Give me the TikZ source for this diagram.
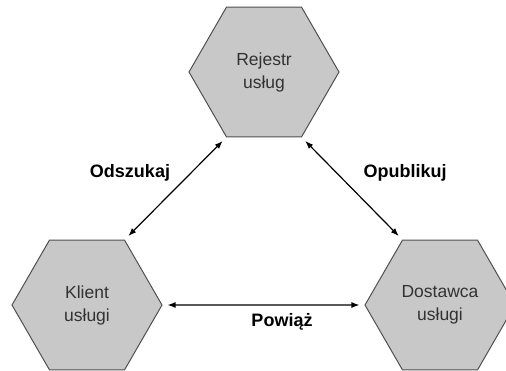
\documentclass[tikz,border=0pt]{standalone}
\usepackage{fontspec}
\setmainfont{Liberation Sans}
\usetikzlibrary{shapes.geometric,arrows.meta}
\definecolor{hexfill}{RGB}{200,200,200}
\definecolor{hexline}{RGB}{80,80,80}
\definecolor{hextext}{RGB}{50,50,50}
\tikzset{
  hexnode/.style={regular polygon, regular polygon sides=6, minimum size=150pt,
    inner sep=0pt, fill=hexfill, draw=hexline, line width=1pt,
    text=hextext, align=center, font=\fontsize{17.5}{23}\selectfont},
  link/.style={line width=1.2pt, {Latex[length=8pt,width=6pt]}-{Latex[length=8pt,width=6pt]},
    shorten <=5pt, shorten >=5pt},
  linklabel/.style={font=\fontsize{18}{21}\selectfont\bfseries, text=black}
}
\begin{document}
\begin{tikzpicture}[x=1pt,y=-1pt]
\useasboundingbox (0,0) rectangle (506,370);
\node[hexnode] (reg) at (264,72) {Rejestr\\usług};
\node[hexnode] (cli) at (87,305) {Klient\\usługi};
\node[hexnode] (prov) at (440,305) {Dostawca\\usługi};
\draw[link] (cli.60) -- (reg.240);
\draw[link] (reg.300) -- (prov.120);
\draw[link] (cli.east) -- (prov.west);
\node[linklabel] (l1) at (130,173) {Odszukaj};
\node[linklabel] (l2) at (405,173) {Opublikuj};
\node[linklabel] (l3) at (282,322) {Powiąż};
\end{tikzpicture}
\end{document}
